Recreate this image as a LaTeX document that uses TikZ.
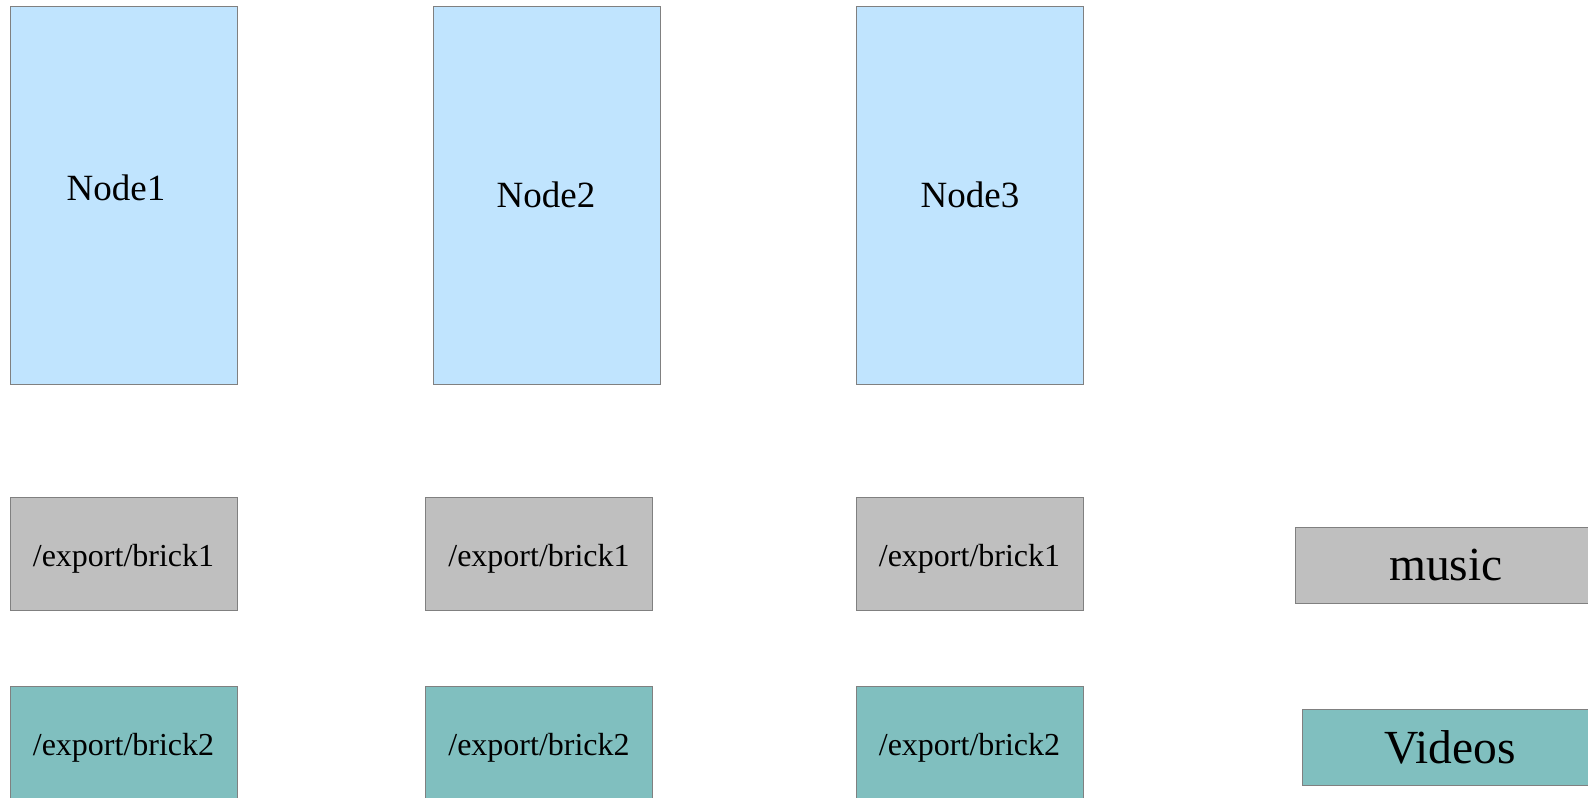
\documentclass[tikz,border=0pt]{standalone}
\usepackage{fontspec}
\setmainfont{Liberation Serif}
\usepackage{tikz}
\usepackage{xcolor}

\definecolor{hostblue}{RGB}{192,228,254}
\definecolor{brickgray}{RGB}{191,191,191}
\definecolor{brickteal}{RGB}{128,191,191}
\definecolor{edgegray}{RGB}{128,128,128}

\tikzset{
    box/.style={draw=edgegray, line width=1pt, inner sep=0pt},
    host/.style={box, fill=hostblue, minimum width=227pt, minimum height=378pt},
    hosttext/.style={font=\fontsize{37}{41}\selectfont, inner sep=0pt},
    brick/.style={box, minimum width=227pt, minimum height=113pt,
        text height=25pt, text depth=0pt, font=\fontsize{32}{36}\selectfont},
    brickone/.style={brick, fill=brickgray},
    bricktwo/.style={brick, fill=brickteal},
    volume/.style={box, minimum height=76pt, font=\fontsize{47.5}{52}\selectfont}
}

\begin{document}
\begin{tikzpicture}[x=1pt,y=-1pt]
        \useasboundingbox (0,0) rectangle (1588,798);
        \foreach \i/\hx/\bx/\dx/\dy in {1/123.5/123.5/-7.5/7, 2/547/539/-1/0, 3/969.5/969.5/0.5/0} {
            \node[host, label={[hosttext, xshift=\dx pt, yshift=\dy pt]center:Node\i}] (node\i) at (\hx,195) {};
            \node[brickone] (brickA\i) at (\bx,553.5) {/export/brick1};
            \node[bricktwo] (brickB\i) at (\bx,742.5) {/export/brick2};
        }
        \node[volume, fill=brickgray, minimum width=302pt] (music) at (1446,565) {music};
        \node[volume, fill=brickteal, minimum width=296pt] (videos) at (1450,747) {Videos};
    \end{tikzpicture}
\end{document}
